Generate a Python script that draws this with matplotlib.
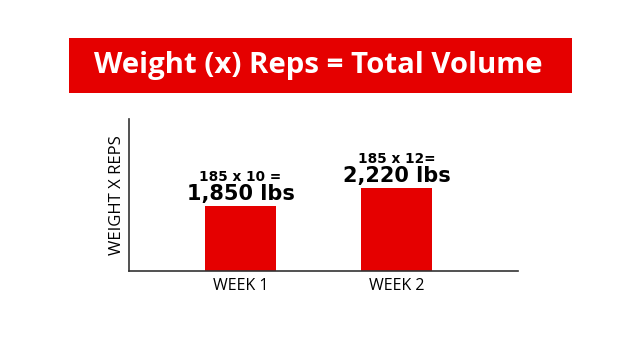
import matplotlib
matplotlib.use("Agg")
from matplotlib import pyplot as plt
from matplotlib.patches import Rectangle

# данные
weeks = ["WEEK 1", "WEEK 2"]
weights = [185, 185]
reps = [10, 12]
volumes = [1850, 2220]
calc_labels = ["185 x 10 =", "185 x 12="]
total_labels = ["1,850 lbs", "2,220 lbs"]

RED = "#e50000"
plt.rcParams["font.family"] = ["Open Sans", "DejaVu Sans"]

fig = plt.figure(figsize=(6.4, 3.6), dpi=100)
W, H = 640, 360

# красная плашка с заголовком
fig.patches.append(Rectangle((69 / W, 1 - 93 / H), (572 - 69) / W, (93 - 38) / H,
                             transform=fig.transFigure, facecolor=RED, edgecolor="none"))
fig.text(318 / W, 1 - 66 / H, "Weight (x) Reps = Total Volume", color="white",
         fontsize=21.2, fontweight="bold", ha="center", va="center")

ax = fig.add_axes([129 / W, 1 - 271 / H, (518 - 129) / W, (271 - 119) / H])
x = list(range(len(weeks)))
ax.bar(x, volumes, width=0.455, color=RED)
ax.set_xlim(-0.715, 1.779)
ax.set_ylim(514, 3638)

# подписи над столбцами
for i, v in enumerate(volumes):
    ax.annotate(total_labels[i], (x[i], v), xytext=(0, 4.5), textcoords="offset points",
                ha="center", va="baseline", fontsize=15, fontweight="bold",
                family="DejaVu Sans", color="black")
    ax.annotate(calc_labels[i], (x[i], v), xytext=(0, 18), textcoords="offset points",
                ha="center", va="baseline", fontsize=9.8, fontweight="bold",
                family="DejaVu Sans", color="black")

ax.set_xticks(x)
ax.set_xticklabels(weeks, fontsize=11.5)
ax.tick_params(axis="x", length=0, pad=5)
ax.set_yticks([])
ax.set_ylabel("WEIGHT X REPS", fontsize=12, labelpad=3)
ax.spines["top"].set_visible(False)
ax.spines["right"].set_visible(False)
for s in ("left", "bottom"):
    ax.spines[s].set_color("#333333")
    ax.spines[s].set_linewidth(1.2)

fig.savefig("out.png", dpi=100)
